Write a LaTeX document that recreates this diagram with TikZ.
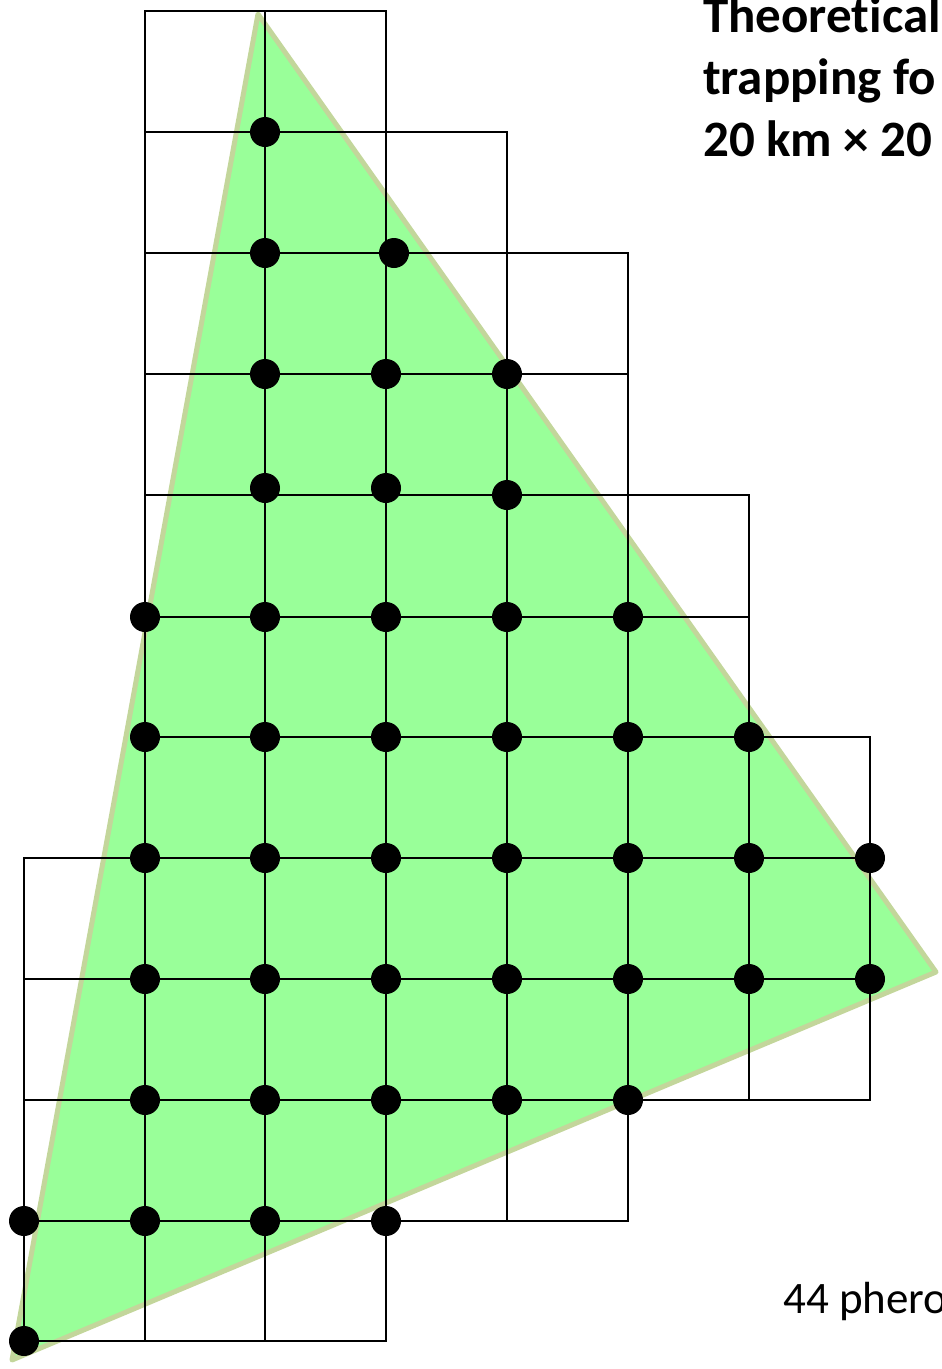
\documentclass[tikz,border=0pt]{standalone}
\usepackage{fontspec}
\setmainfont{Carlito}[Ligatures=NoCommon]
\definecolor{trifill}{HTML}{99FF99}
\definecolor{triedge}{HTML}{C3D69B}
\begin{document}
\begin{tikzpicture}[x=1pt,y=-1pt,
  gridline/.style={line width=2.7pt, black, line cap=rect},
  trap/.style={circle, fill=black, inner sep=0pt, minimum size=30pt},
  titletext/.style={anchor=base west, inner sep=0pt, font=\bfseries\fontsize{51}{62}\selectfont},
  notetext/.style={anchor=base west, inner sep=0pt, font=\fontsize{45}{54}\selectfont}]
\useasboundingbox (0,0) rectangle (942,1369);
\clip (0,0) rectangle (942,1369);
% area triangle
\filldraw[fill=trifill, draw=triedge, line width=5pt, line join=round]
  (258,14) -- (936,972) -- (12,1360) -- cycle;
% grid: horizontal lines
\draw[gridline] (145,11) -- (386,11);
\draw[gridline] (145,132) -- (507,132);
\draw[gridline] (145,253) -- (628,253);
\draw[gridline] (145,374) -- (628,374);
\draw[gridline] (145,495) -- (749,495);
\draw[gridline] (145,617) -- (749,617);
\draw[gridline] (145,737) -- (870,737);
\draw[gridline] (24,858) -- (870,858);
\draw[gridline] (24,979) -- (870,979);
\draw[gridline] (24,1100) -- (870,1100);
\draw[gridline] (24,1221) -- (628,1221);
\draw[gridline] (24,1341) -- (386,1341);
% grid: vertical lines
\draw[gridline] (24,858) -- (24,1341);
\draw[gridline] (145,11) -- (145,1341);
\draw[gridline] (265,11) -- (265,1341);
\draw[gridline] (386,11) -- (386,1341);
\draw[gridline] (507,132) -- (507,1221);
\draw[gridline] (628,253) -- (628,1221);
\draw[gridline] (749,495) -- (749,1100);
\draw[gridline] (870,737) -- (870,1100);
% traps
\node[trap] (t1a) at (265,132) {};
\node[trap] (t2a) at (265,253) {};
\node[trap] (t2b) at (394,253) {};
\node[trap] (t3a) at (265,374) {};
\node[trap] (t3b) at (386,374) {};
\node[trap] (t3c) at (507,374) {};
\node[trap] (t4a) at (265,488) {};
\node[trap] (t4b) at (386,488) {};
\node[trap] (t4c) at (507,495) {};
\foreach \x [count=\i] in {145,265,386,507,628} {\node[trap] (t5\i) at (\x,617) {};}
\foreach \x [count=\i] in {145,265,386,507,628,749} {\node[trap] (t6\i) at (\x,737) {};}
\foreach \x [count=\i] in {145,265,386,507,628,749,870} {\node[trap] (t7\i) at (\x,858) {};}
\foreach \x [count=\i] in {145,265,386,507,628,749,870} {\node[trap] (t8\i) at (\x,979) {};}
\foreach \x [count=\i] in {145,265,386,507,628} {\node[trap] (t9\i) at (\x,1100) {};}
\foreach \x [count=\i] in {24,145,265,386} {\node[trap] (t10\i) at (\x,1221) {};}
\node[trap] (t11a) at (24,1341) {};
% texts
\node[titletext] (title1) at (703,32) {Theoretical};
\node[titletext] (title2) at (703,94) {trapping fo};
\node[titletext] (title3) at (703,156) {20 km × 20};
\node[notetext] (note) at (783,1313) {44 phero};
\end{tikzpicture}
\end{document}
